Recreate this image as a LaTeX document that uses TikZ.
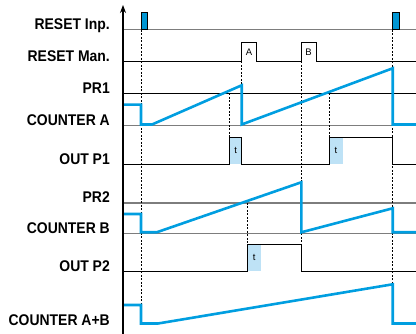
\documentclass[tikz,border=0pt]{standalone}
\usepackage{fontspec}
\newfontfamily\lblfont[FakeStretch=0.9]{Liberation Sans}
\newfontfamily\smallfont{Liberation Sans}
\usetikzlibrary{arrows.meta}
\definecolor{sigblue}{RGB}{0, 158, 224}
\definecolor{pulseblue}{RGB}{0, 150, 212}
\definecolor{tblue}{RGB}{190, 226, 246}
\definecolor{basegray}{RGB}{125, 125, 125}
\tikzset{
    siglabel/.style={anchor=base east, inner sep=0pt, font=\lblfont\bfseries\fontsize{15.5}{16}\selectfont},
    tlabel/.style={inner sep=0pt, font=\smallfont\fontsize{9.5}{10}\selectfont},
    graybase/.style={draw=basegray, line width=1.1pt},
    blackbase/.style={draw=black, line width=0.9pt},
    resetpulse/.style={draw=black, line width=0.9pt, fill=pulseblue},
    markline/.style={draw=black, line width=0.6pt, dash pattern=on 2pt off 1.5pt},
    countline/.style={draw=sigblue, line width=2.6pt, line join=miter},
    axisline/.style={draw=black, line width=1.3pt, -{Stealth[length=8pt, width=6pt]}},
}
\begin{document}
\begin{tikzpicture}[x=1pt, y=-1pt]
\useasboundingbox (0,0) rectangle (416,334);

% Labels
\node[siglabel] (rstinp) at (110,29.5) {RESET Inp.};
\node[siglabel] (rstman) at (110,61.5) {RESET Man.};
\node[siglabel] (pr1) at (110,93.3) {PR1};
\node[siglabel] (cnta) at (110,125.8) {COUNTER A};
\node[siglabel] (outp1) at (110,164.3) {OUT P1};
\node[siglabel] (pr2) at (110,203) {PR2};
\node[siglabel] (cntb) at (110,233.8) {COUNTER B};
\node[siglabel] (outp2) at (110,271.5) {OUT P2};
\node[siglabel] (cntab) at (110,326) {COUNTER A+B};

% Delay windows t
\fill[tblue] (229.3,137.3) rectangle (242,164.3);
\fill[tblue] (329.3,137.3) rectangle (342.7,164.3);
\fill[tblue] (247.7,244.3) rectangle (261,271);
\node[tlabel] (t1) at (235.7,150.8) {t};
\node[tlabel] (t2) at (336,150.8) {t};
\node[tlabel] (t3) at (254.3,257.6) {t};

% Base lines
\draw[graybase] (123,29.5) -- (416,29.5);
\draw[blackbase] (123,61.3) -- (241.7,61.3) -- (241.7,42.3) -- (256,42.3) -- (256,61.3)
    -- (301.3,61.3) -- (301.3,42.3) -- (316,42.3) -- (316,61.3) -- (416,61.3);
\node[tlabel] (mana) at (249,52) {A};
\node[tlabel] (manb) at (308.6,52) {B};
\draw[blackbase] (123,93.3) -- (416,93.3);
\draw[graybase] (123,125.7) -- (416,125.7);
\draw[blackbase] (123,164.3) -- (229.3,164.3) -- (229.3,137.3) -- (241.7,137.3) -- (241.7,164.3)
    -- (329.3,164.3) -- (329.3,137.3) -- (392.7,137.3) -- (392.7,164.3) -- (416,164.3);
\draw[graybase] (123,203) -- (416,203);
\draw[graybase] (123,233.3) -- (416,233.3);
\draw[blackbase] (123,271) -- (247.7,271) -- (247.7,244.3) -- (301.3,244.3) -- (301.3,271) -- (416,271);

% Reset pulses
\draw[resetpulse] (141,29.5) rectangle (147,12);
\draw[resetpulse] (392.7,29.5) rectangle (399.3,12);

% Time markers
\draw[markline] (141,30) -- (141,305);
\draw[markline] (392.7,30) -- (392.7,284);
\draw[markline] (241.7,61.3) -- (241.7,86);
\draw[markline] (301.3,61.3) -- (301.3,183);
\draw[markline] (301.3,233.3) -- (301.3,244.3);
\draw[markline] (229.3,93.3) -- (229.3,137.3);
\draw[markline] (329.3,93.3) -- (329.3,137.3);
\draw[markline] (247.7,203) -- (247.7,244.3);

% Counters
\draw[countline] (123,104.7) -- (141,104.7) -- (141,124.5) -- (152,124.5) -- (241.7,85.3)
    -- (241.7,124.5) -- (392.7,68.3) -- (392.7,124.5) -- (416,124.5);
\draw[countline] (123,214) -- (141,214) -- (141,232.3) -- (156.7,232.3) -- (301.3,182.3)
    -- (301.3,232.3) -- (392.7,208.3) -- (392.7,232.3) -- (416,232.3);
\draw[countline] (123,305) -- (141,305) -- (141,323.5) -- (158,323.5) -- (392.7,284.3)
    -- (392.7,323.5) -- (416,323.5);

% Axis
\draw[axisline] (123,334) -- (123,5);
\end{tikzpicture}
\end{document}
